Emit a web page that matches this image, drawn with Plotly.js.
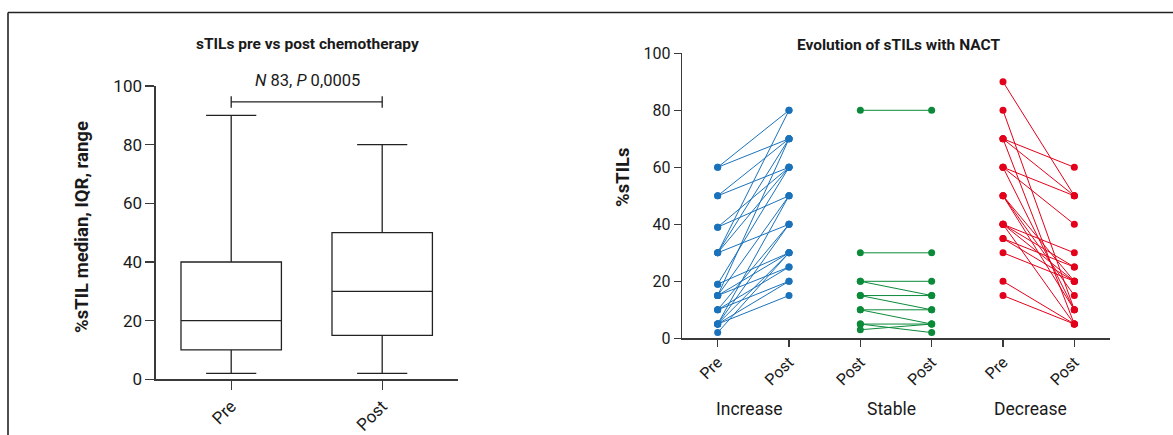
<!DOCTYPE html>
<html>
<head>
<meta charset="utf-8">
<script src="https://cdn.plot.ly/plotly-3.0.1.min.js"></script>
<style>
html,body{margin:0;padding:0;background:#fff;}
#chart{width:1173px;height:435px;}
</style>
</head>
<body>
<div id="chart"></div>
<script>
// ---- Left panel: box summary (median, IQR, range) ----
var boxCategories = ["Pre", "Post"];
var boxMin    = [2, 2];
var boxQ1     = [10, 15];
var boxMedian = [20, 30];
var boxQ3     = [40, 50];
var boxMax    = [90, 80];
var annotationText = "<i>N</i> 83, <i>P</i> 0,0005";

// ---- Right panel: paired evolution ----
var rightTickLabels = ["Pre", "Post", "Post", "Post", "Pre", "Post"];
var groupLabels = ["Increase", "Stable", "Decrease"];

var incPre  = [60,60,50,50,39,39,30,30,30,30,19,19,15,15,15,15,10,10,10,5,5,5,5,5,2];
var incPost = [80,70,70,60,60,50,80,70,60,40,60,30,70,50,30,25,40,25,20,50,40,30,20,15,30];

var stablePre  = [80,30,20,20,15,15,10,10,5,5,3];
var stablePost = [80,30,20,15,15,10,10,5,5,2,5];

var decPre  = [90,80,70,70,70,60,60,60,50,50,50,40,40,40,40,35,35,30,20,15];
var decPost = [50,10,60,50,5,50,40,10,20,15,10,30,25,20,5,25,20,20,5,5];

var yTicks = [0,20,40,60,80,100];

// ---- styles ----
var FONT = "Roboto, 'DejaVu Sans', sans-serif";
var TXT = "#1a1a1a";
var AX = "#3a3a3a";
var cBlue = "#1a72bb", cGreen = "#0b8a3a", cRed = "#e2001a";

function pairTrace(pre, post, x0, color) {
  var xs = [], ys = [];
  for (var i = 0; i < pre.length; i++) {
    xs.push(x0, x0 + 1, null);
    ys.push(pre[i], post[i], null);
  }
  return {
    type: "scatter", mode: "lines+markers", x: xs, y: ys,
    xaxis: "x2", yaxis: "y2", connectgaps: false,
    line: {color: color, width: 1},
    marker: {color: color, size: 7},
    hoverinfo: "skip", showlegend: false, cliponaxis: false
  };
}

var data = [
  {
    type: "box", x: [0, 1], q1: boxQ1, median: boxMedian, q3: boxQ3,
    lowerfence: boxMin, upperfence: boxMax,
    width: 0.665, whiskerwidth: 0.5, boxpoints: false,
    fillcolor: "#ffffff", line: {color: "#222", width: 1.3},
    xaxis: "x", yaxis: "y", showlegend: false, hoverinfo: "skip"
  },
  pairTrace(incPre, incPost, 0, cBlue),
  pairTrace(stablePre, stablePost, 2, cGreen),
  pairTrace(decPre, decPost, 4, cRed)
];

function yax(domain, size, len) {
  return {
    domain: domain, range: [0, 100], tickvals: yTicks, ticktext: yTicks.map(String),
    showline: true, linecolor: AX, linewidth: 1.3, showgrid: false, zeroline: false,
    ticks: "outside", ticklen: len, tickwidth: 1.3, tickcolor: AX,
    tickfont: {family: FONT, size: size, color: TXT}, fixedrange: true
  };
}

var layout = {
  width: 1173, height: 435,
  margin: {l: 0, r: 0, t: 0, b: 0},
  paper_bgcolor: "#fff", plot_bgcolor: "#fff",
  showlegend: false,
  xaxis: {
    domain: [155.7/1173, 457.7/1173], range: [-0.5, 1.5],
    tickvals: [0, 1], ticktext: boxCategories, tickangle: -45,
    showline: true, linecolor: AX, linewidth: 1.3, showgrid: false, zeroline: false,
    ticks: "outside", ticklen: 9, tickwidth: 1.3, tickcolor: AX,
    tickfont: {family: FONT, size: 17, color: TXT}, anchor: "y"
  },
  yaxis: yax([(435-379.3)/435, (435-86)/435], 17, 9),
  xaxis2: {
    domain: [682/1173, 1110/1173], range: [-0.5, 5.5],
    tickvals: [0,1,2,3,4,5], ticktext: rightTickLabels, tickangle: -45,
    showline: true, linecolor: AX, linewidth: 1.3, showgrid: false, zeroline: false,
    ticks: "outside", ticklen: 7, tickwidth: 1.3, tickcolor: AX,
    tickfont: {family: FONT, size: 16, color: TXT}, anchor: "y2"
  },
  yaxis2: Object.assign(yax([(435-338.3)/435, (435-53.3)/435], 16, 7), {anchor: "x2"}),
  shapes: [
    // outer frame (left and top edges)
    {type: "line", xref: "paper", yref: "paper", x0: 8/1173, x1: 8/1173, y0: 0, y1: (435-12.5)/435,
     line: {color: "#222", width: 1.6}},
    {type: "line", xref: "paper", yref: "paper", x0: 8/1173, x1: 1, y0: (435-12.5)/435, y1: (435-12.5)/435,
     line: {color: "#222", width: 1.6}},
    // significance bracket
    {type: "line", xref: "x", yref: "y", x0: 0, x1: 1, y0: 94.6, y1: 94.6, line: {color: "#222", width: 1.3}},
    {type: "line", xref: "x", yref: "y", x0: 0, x1: 0, y0: 92.6, y1: 96.5, line: {color: "#222", width: 1.3}},
    {type: "line", xref: "x", yref: "y", x0: 1, x1: 1, y0: 92.6, y1: 96.5, line: {color: "#222", width: 1.3}}
  ],
  annotations: [
    {xref: "paper", yref: "paper", x: 307/1173, y: (435-44)/435, showarrow: false,
     text: "<b>sTILs pre vs post chemotherapy</b>", font: {family: FONT, size: 15.5, color: TXT},
     xanchor: "center", yanchor: "middle"},
    {xref: "paper", yref: "paper", x: 898/1173, y: (435-45)/435, showarrow: false,
     text: "<b>Evolution of sTILs with NACT</b>", font: {family: FONT, size: 15.5, color: TXT},
     xanchor: "center", yanchor: "middle"},
    {xref: "paper", yref: "paper", x: 82/1173, y: (435-227)/435, showarrow: false, textangle: -90,
     text: "<b>%sTIL median, IQR, range</b>", font: {family: FONT, size: 18.5, color: TXT},
     xanchor: "center", yanchor: "middle"},
    {xref: "paper", yref: "paper", x: 623/1173, y: (435-177)/435, showarrow: false, textangle: -90,
     text: "<b>%sTILs</b>", font: {family: FONT, size: 18.5, color: TXT},
     xanchor: "center", yanchor: "middle"},
    {xref: "paper", yref: "paper", x: 307/1173, y: (435-80)/435, showarrow: false, text: annotationText,
     font: {family: FONT, size: 16.5, color: TXT}, xanchor: "center", yanchor: "middle"},
    {xref: "x2", yref: "paper", x: 0.44, y: (435-409)/435, showarrow: false, text: groupLabels[0],
     font: {family: FONT, size: 17.5, color: TXT}, xanchor: "center", yanchor: "middle"},
    {xref: "x2", yref: "paper", x: 2.43, y: (435-409)/435, showarrow: false, text: groupLabels[1],
     font: {family: FONT, size: 17.5, color: TXT}, xanchor: "center", yanchor: "middle"},
    {xref: "x2", yref: "paper", x: 4.38, y: (435-409)/435, showarrow: false, text: groupLabels[2],
     font: {family: FONT, size: 17.5, color: TXT}, xanchor: "center", yanchor: "middle"}
  ]
};

Plotly.newPlot("chart", data, layout, {staticPlot: true, displayModeBar: false});
</script>
</body>
</html>
